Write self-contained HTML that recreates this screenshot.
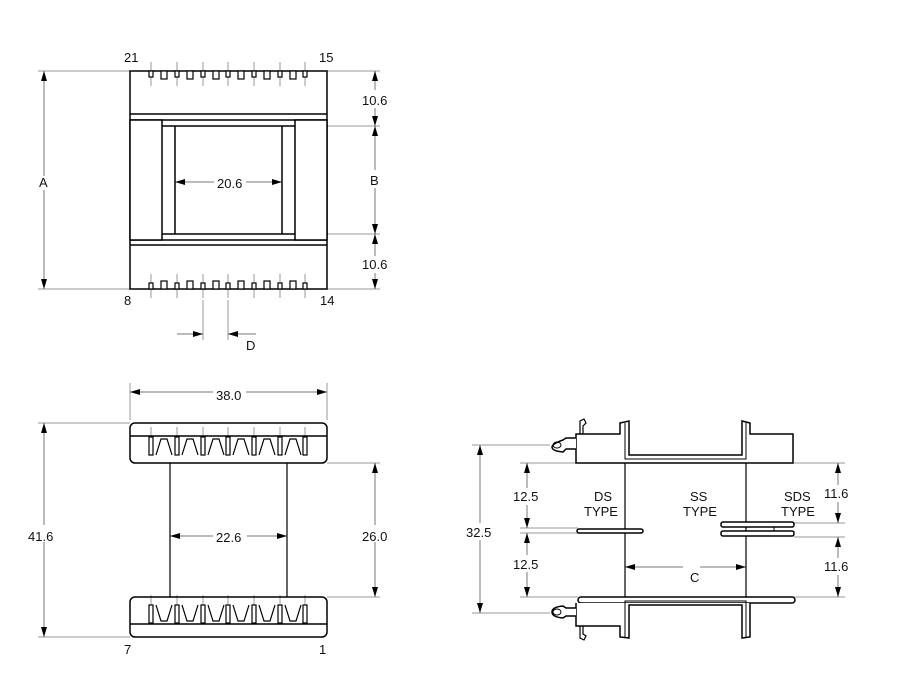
<!DOCTYPE html>
<html><head><meta charset="utf-8"><style>
html,body{margin:0;padding:0;background:#fff}
svg{display:block}
text{font-family:"Liberation Sans",sans-serif;font-size:13px;fill:#111}
</style></head><body>
<svg width="900" height="675" viewBox="0 0 900 675" xmlns="http://www.w3.org/2000/svg">
<defs>
<marker id="a" viewBox="0 0 10 6" refX="10" refY="3" markerWidth="10" markerHeight="6" orient="auto-start-reverse" markerUnits="userSpaceOnUse"><path d="M0,0 L10,3 L0,6 Z" fill="#000"/></marker>
<g id="tp"><rect x="-2" y="71" width="4" height="6" fill="#fff" stroke="#000" stroke-width="1.2"/><rect x="10" y="71" width="6" height="8" fill="#fff" stroke="#000" stroke-width="1.2"/></g>
<g id="bp"><rect x="-2" y="283" width="4" height="6" fill="#fff" stroke="#000" stroke-width="1.2"/><rect x="10" y="281" width="6" height="8" fill="#fff" stroke="#000" stroke-width="1.2"/></g>
<g id="fp"><rect x="-2" y="437" width="4" height="18" fill="#fff" stroke="#000" stroke-width="1.2"/><polyline points="5,455 10,439 16,439 21,455" fill="none" stroke="#000" stroke-width="1.2"/></g>
<g id="fb"><rect x="-2" y="605" width="4" height="18" fill="#fff" stroke="#000" stroke-width="1.2"/><polyline points="5,605 10,621 16,621 21,605" fill="none" stroke="#000" stroke-width="1.2"/></g>
</defs>

<!-- grey extension / dim lines -->
<g stroke="#999" stroke-width="1" fill="none">
<line x1="38" y1="71" x2="380" y2="71"/><line x1="38" y1="289" x2="380" y2="289"/>
<line x1="327" y1="126" x2="380" y2="126"/><line x1="327" y1="234" x2="380" y2="234"/>
<line x1="203" y1="300" x2="203" y2="340"/><line x1="228" y1="300" x2="228" y2="340"/>
<line x1="130" y1="383" x2="130" y2="420"/><line x1="327" y1="383" x2="327" y2="420"/>
<line x1="38" y1="423" x2="130" y2="423"/><line x1="38" y1="637" x2="130" y2="637"/>
<line x1="327" y1="463" x2="380" y2="463"/><line x1="327" y1="597" x2="380" y2="597"/>
<line x1="472" y1="445" x2="550" y2="445"/><line x1="472" y1="613" x2="550" y2="613"/>
<line x1="520" y1="463" x2="578" y2="463"/><line x1="520" y1="597" x2="578" y2="597"/>
<line x1="520" y1="528" x2="578" y2="528"/><line x1="520" y1="533" x2="578" y2="533"/>
<line x1="794" y1="463" x2="845" y2="463"/><line x1="794" y1="597" x2="845" y2="597"/>
<line x1="794" y1="523" x2="845" y2="523"/><line x1="794" y1="537" x2="845" y2="537"/>
<!-- pin ticks -->
<g id="ticks"><line x1="151" y1="62" x2="151" y2="86"/><line x1="177" y1="62" x2="177" y2="86"/><line x1="203" y1="62" x2="203" y2="86"/><line x1="228" y1="62" x2="228" y2="86"/><line x1="254" y1="62" x2="254" y2="86"/><line x1="280" y1="62" x2="280" y2="86"/><line x1="305" y1="62" x2="305" y2="86"/></g>
<use href="#ticks" transform="translate(0,212)"/>
<use href="#ticks" transform="translate(0,365)"/>
<use href="#ticks" transform="translate(0,533)"/>
</g>

<!-- dims -->
<g stroke="#777" stroke-width="1" fill="none">
<line x1="44" y1="71" x2="44" y2="176" marker-start="url(#a)"/><line x1="44" y1="190" x2="44" y2="289" marker-end="url(#a)"/>
<line x1="375" y1="71" x2="375" y2="90" marker-start="url(#a)"/><line x1="375" y1="108" x2="375" y2="126" marker-end="url(#a)"/>
<line x1="375" y1="126" x2="375" y2="170" marker-start="url(#a)"/><line x1="375" y1="188" x2="375" y2="234" marker-end="url(#a)"/>
<line x1="375" y1="234" x2="375" y2="256" marker-start="url(#a)"/><line x1="375" y1="273" x2="375" y2="289" marker-end="url(#a)"/>
<line x1="175" y1="182" x2="214" y2="182" marker-start="url(#a)"/><line x1="246" y1="182" x2="282" y2="182" marker-end="url(#a)"/>
<line x1="177" y1="334" x2="203" y2="334" marker-end="url(#a)"/><line x1="256" y1="334" x2="228" y2="334" marker-end="url(#a)"/>
<line x1="130" y1="392" x2="213" y2="392" marker-start="url(#a)"/><line x1="246" y1="392" x2="327" y2="392" marker-end="url(#a)"/>
<line x1="44" y1="423" x2="44" y2="525" marker-start="url(#a)"/><line x1="44" y1="542" x2="44" y2="637" marker-end="url(#a)"/>
<line x1="375" y1="463" x2="375" y2="525" marker-start="url(#a)"/><line x1="375" y1="542" x2="375" y2="597" marker-end="url(#a)"/>
<line x1="170" y1="536" x2="213" y2="536" marker-start="url(#a)"/><line x1="247" y1="536" x2="287" y2="536" marker-end="url(#a)"/>
<line x1="480" y1="445" x2="480" y2="523" marker-start="url(#a)"/><line x1="480" y1="540" x2="480" y2="613" marker-end="url(#a)"/>
<line x1="527" y1="463" x2="527" y2="488" marker-start="url(#a)"/><line x1="527" y1="505" x2="527" y2="528" marker-end="url(#a)"/>
<line x1="527" y1="533" x2="527" y2="555" marker-start="url(#a)"/><line x1="527" y1="572" x2="527" y2="597" marker-end="url(#a)"/>
<line x1="838" y1="463" x2="838" y2="485" marker-start="url(#a)"/><line x1="838" y1="502" x2="838" y2="523" marker-end="url(#a)"/>
<line x1="838" y1="537" x2="838" y2="558" marker-start="url(#a)"/><line x1="838" y1="575" x2="838" y2="597" marker-end="url(#a)"/>
<line x1="625" y1="567" x2="683" y2="567" marker-start="url(#a)"/><line x1="700" y1="567" x2="746" y2="567" marker-end="url(#a)"/>
</g>

<!-- top view -->
<g stroke="#000" stroke-width="1.5" fill="none">
<rect x="130" y="71" width="197" height="218"/>
<line x1="130" y1="114" x2="327" y2="114"/><line x1="130" y1="120" x2="327" y2="120"/>
<line x1="130" y1="240" x2="327" y2="240"/><line x1="130" y1="245" x2="327" y2="245"/>
<rect x="130" y="120" width="32" height="120" fill="#fff"/><rect x="295" y="120" width="32" height="120" fill="#fff"/>
<line x1="162" y1="126" x2="295" y2="126"/><line x1="162" y1="234" x2="295" y2="234"/>
<line x1="175" y1="126" x2="175" y2="234"/><line x1="282" y1="126" x2="282" y2="234"/>
</g>
<use href="#tp" x="151"/><use href="#tp" x="177"/><use href="#tp" x="203"/><use href="#tp" x="228"/><use href="#tp" x="254"/><use href="#tp" x="280"/><rect x="303" y="71" width="4" height="6" fill="#fff" stroke="#000" stroke-width="1.2"/>
<use href="#bp" x="151"/><use href="#bp" x="177"/><use href="#bp" x="203"/><use href="#bp" x="228"/><use href="#bp" x="254"/><use href="#bp" x="280"/><rect x="303" y="283" width="4" height="6" fill="#fff" stroke="#000" stroke-width="1.2"/>

<!-- front view -->
<g stroke="#000" stroke-width="1.5" fill="none">
<rect x="130" y="423" width="197" height="40" rx="5"/><line x1="130" y1="436" x2="327" y2="436"/>
<rect x="130" y="597" width="197" height="40" rx="5"/><line x1="130" y1="624" x2="327" y2="624"/>
<line x1="170" y1="463" x2="170" y2="597" stroke-width="1.2"/><line x1="287" y1="463" x2="287" y2="597" stroke-width="1.2"/>
</g>
<use href="#fp" x="151"/><use href="#fp" x="177"/><use href="#fp" x="203"/><use href="#fp" x="228"/><use href="#fp" x="254"/><use href="#fp" x="280"/><rect x="303" y="437" width="4" height="18" fill="#fff" stroke="#000" stroke-width="1.2"/>
<use href="#fb" x="151"/><use href="#fb" x="177"/><use href="#fb" x="203"/><use href="#fb" x="228"/><use href="#fb" x="254"/><use href="#fb" x="280"/><rect x="303" y="605" width="4" height="18" fill="#fff" stroke="#000" stroke-width="1.2"/>

<!-- side view -->
<g stroke="#000" stroke-width="1.5" fill="#fff">
<path d="M576,463 L576,434 L620,434 L620,423 L629,421 L629,455 L742,455 L742,421 L750,423 L750,434 L793,434 L793,463 Z"/>
<path d="M625,423 L625,459 L746,459 L746,423" fill="none" stroke-width="1"/>
<path d="M580,434 L580,421 L584,419 L586,423 L583,426 L583,434" fill="none" stroke-width="1.2"/>
<rect x="578" y="597" width="217" height="6" rx="3"/>
<path d="M576,603 L576,626 L620,626 L620,637 L629,638 L629,605 L742,605 L742,638 L750,637 L750,603"/>
<path d="M625,637 L625,601 L746,601 L746,637" fill="none" stroke-width="1"/>
<path d="M580,626 L580,638 L584,640 L586,636 L583,634 L583,626" fill="none" stroke-width="1.2"/>
<path d="M576,438 L566,438 L563,440 Q552,444 552,447 Q552,451 563,452 L566,449 L576,449"/>
<ellipse cx="557" cy="445" rx="4" ry="3" fill="none" stroke-width="1"/>
<path d="M576,608 L566,608 L563,606 Q552,607 552,612 Q552,617 563,618 L566,616 L576,616"/>
<ellipse cx="557" cy="612" rx="4" ry="3" fill="none" stroke-width="1"/>
<line x1="625" y1="463" x2="625" y2="597" stroke-width="1.2"/><line x1="746" y1="463" x2="746" y2="597" stroke-width="1.2"/>
<rect x="577" y="529" width="66" height="4" rx="2"/>
<rect x="721" y="522" width="73" height="5" rx="2"/>
<rect x="721" y="531" width="73" height="5" rx="2"/>
<line x1="774" y1="527" x2="774" y2="531" stroke-width="1"/>
</g>

<!-- labels -->
<text x="124" y="62">21</text><text x="319" y="62">15</text>
<text x="124" y="305">8</text><text x="320" y="305">14</text>
<text x="39" y="187">A</text><text x="370" y="185">B</text>
<text x="362" y="105">10.6</text><text x="362" y="269">10.6</text>
<text x="217" y="188">20.6</text><text x="246" y="350">D</text>
<text x="216" y="400">38.0</text>
<text x="28" y="541">41.6</text><text x="362" y="541">26.0</text><text x="216" y="542">22.6</text>
<text x="124" y="654">7</text><text x="319" y="654">1</text>
<text x="466" y="537">32.5</text><text x="513" y="501">12.5</text><text x="513" y="569">12.5</text>
<text x="824" y="498">11.6</text><text x="824" y="571">11.6</text>
<text x="594" y="501">DS</text><text x="584" y="516">TYPE</text>
<text x="690" y="501">SS</text><text x="683" y="516">TYPE</text>
<text x="784" y="501">SDS</text><text x="781" y="516">TYPE</text>
<text x="690" y="582">C</text>
</svg>
</body></html>
